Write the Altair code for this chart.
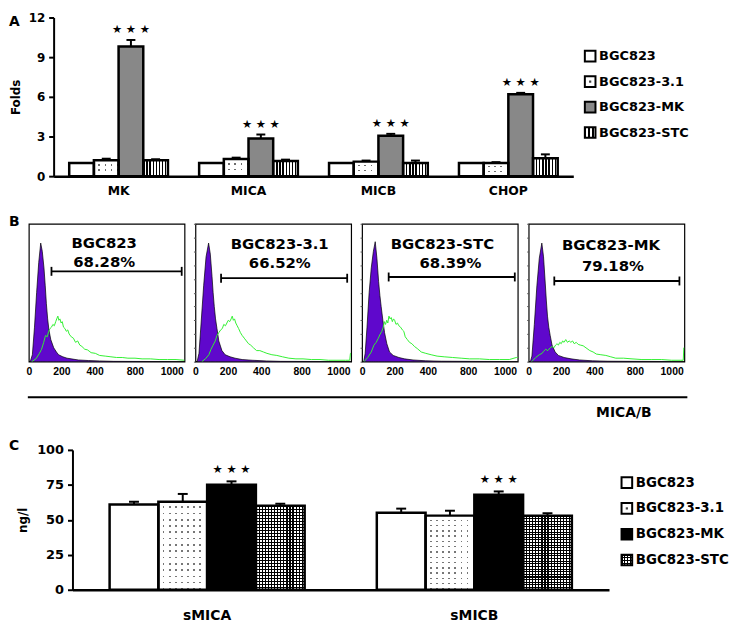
import altair as alt
import pandas as pd

FONT = "DejaVu Sans"
BLACK = "#000000"
WHITE = "#ffffff"
CLEAR = "rgba(255,255,255,0)"
PURPLE = "#5f08cc"
GREEN = "#33f033"

# ---------------------------------------------------------------- data
panel_letters = ["A", "B", "C"]
series = ["BGC823", "BGC823-3.1", "BGC823-MK", "BGC823-STC"]

# Panel A: qPCR folds
genes = ["MK", "MICA", "MICB", "CHOP"]
a_bgc823 = [1.0, 1.0, 1.0, 1.0]
a_bgc823_31 = [1.2, 1.3, 1.1, 1.0]
a_bgc823_mk = [9.8, 2.85, 3.05, 6.2]
a_bgc823_stc = [1.2, 1.15, 1.0, 1.35]
a_err_bgc823 = [0.0, 0.0, 0.0, 0.0]
a_err_bgc823_31 = [0.12, 0.1, 0.08, 0.06]
a_err_bgc823_mk = [0.5, 0.3, 0.15, 0.1]
a_err_bgc823_stc = [0.08, 0.1, 0.18, 0.3]
a_sig_none = ["", "", "", ""]
a_sig_bgc823_mk = ["★ ★ ★", "★ ★ ★", "★ ★ ★", "★ ★ ★"]
a_y_ticks = [0, 3, 6, 9, 12]
a_y_title = "Folds"

# Panel B: flow cytometry histograms
b_samples = ["BGC823", "BGC823-3.1", "BGC823-STC", "BGC823-MK"]
b_percent = ["68.28%", "66.52%", "68.39%", "79.18%"]
b_tick_pos = [0, 230, 465, 750, 1010]
b_tick_labels = ["0", "200", "400", "800", "1000"]
b_axis_title = "MICA/B"
b_gate_x1 = [160, 181, 188, 181]
b_gate_x2 = [1080, 1072, 1079, 1065]
b_gate_y = [65.5, 60.5, 61.4, 58.5]

b_iso_x = [
    [0, 10, 25, 40, 55, 70, 84, 95, 107, 116, 124, 133, 142, 155, 176, 195, 210, 240, 270, 300, 350, 420, 500, 600, 1100],
    [0, 12, 25, 40, 58, 75, 93, 105, 117, 125, 133, 142, 152, 165, 187, 210, 245, 280, 330, 400, 500, 600, 1100],
    [0, 12, 22, 35, 50, 65, 80, 93, 105, 117, 126, 135, 147, 159, 175, 194, 220, 260, 300, 360, 450, 560, 1100],
    [0, 12, 23, 40, 58, 75, 93, 105, 117, 125, 133, 142, 152, 165, 187, 210, 250, 300, 360, 450, 560, 1100],
]
b_iso_y = [
    [0, 0, 5, 25, 50, 72, 86, 80, 68, 55, 42, 31, 23, 16, 10, 7, 5, 3.5, 2.5, 2, 1.2, 0.8, 0.5, 0.2, 0],
    [0, 0, 6, 28, 55, 76, 86, 78, 62, 50, 40, 31, 24, 15, 8, 5, 3.5, 2.5, 1.5, 1, 0.5, 0.2, 0],
    [0, 0, 6, 25, 50, 68, 80, 87, 75, 58, 48, 40, 30, 21, 13, 7, 4.5, 3, 2, 1.2, 0.6, 0.3, 0],
    [0, 0, 4, 27, 55, 75, 86, 76, 57, 44, 33, 25, 19, 12, 7, 4.5, 3, 2, 1.2, 0.6, 0.3, 0],
]
b_mica_x = [
    [20, 50, 75, 90, 105, 118, 130, 140, 150, 160, 170, 180, 190, 197, 205, 212, 220, 228, 236, 245, 255, 265, 275,
     285, 300, 315, 330, 345, 360, 375, 395, 415, 440, 470, 500, 540, 580, 620, 660, 700, 750, 800, 860, 920, 980,
     1040, 1100],
    [45, 70, 95, 110, 125, 140, 152, 165, 178, 190, 200, 212, 222, 232, 242, 252, 260, 268, 276, 285, 295, 305, 318,
     330, 345, 360, 375, 390, 410, 432, 455, 480, 505, 540, 575, 615, 660, 710, 760, 820, 880, 940, 1000, 1060, 1090,
     1095, 1100],
    [14, 40, 65, 84, 100, 115, 128, 140, 150, 158, 166, 174, 182, 190, 198, 206, 214, 222, 230, 240, 250, 260, 272,
     285, 295, 305, 320, 335, 352, 370, 390, 418, 450, 488, 530, 580, 640, 700, 760, 830, 900, 970, 1040, 1090, 1100],
    [21, 50, 75, 95, 105, 120, 135, 152, 165, 178, 190, 200, 210, 220, 230, 240, 250, 262, 274, 286, 298, 310, 322,
     336, 350, 365, 385, 405, 432, 455, 478, 510, 545, 580, 615, 670, 730, 800, 870, 940, 1010, 1070, 1092, 1096, 1100],
]
b_mica_y = [
    [0, 2, 6, 9, 14, 19, 18, 22, 24, 25, 27, 26, 29, 31, 33, 30, 31, 28, 29, 25, 24, 22, 23,
     20, 18, 17, 14, 15, 12, 11, 9, 8.5, 6.5, 6, 4.5, 4, 3.5, 3, 3, 2.5, 2.5, 2, 2, 1.5, 1.5,
     1.5, 1],
    [0, 2, 5, 9, 12, 15, 19, 21, 23, 24, 27, 26, 28, 30, 29, 31, 33, 30, 31, 28, 26, 24, 21,
     19, 17, 15, 13, 12, 10, 8, 8, 7, 6, 5, 4.5, 3.5, 2.5, 2, 2, 1.5, 1.5, 1, 1, 1, 1,
     6, 6],
    [0, 3, 7, 12, 14, 17, 20, 22, 25, 29, 27, 30, 28, 33, 31, 32, 29, 31, 30, 27, 28, 26, 25,
     23, 22, 18, 16, 14, 13, 11, 9.5, 7, 6, 5, 4, 3.5, 3, 2.5, 2, 2, 1.5, 1.5, 1.5, 3, 3],
    [0, 3, 5, 6, 7.5, 9, 8, 10, 11, 10, 12, 13, 12, 14, 13, 15, 14, 16, 14, 15, 14, 15, 13,
     14, 12.5, 12, 11.5, 10, 8, 7, 5.5, 5, 4.5, 3.5, 2.5, 2.5, 2, 1.5, 1.5, 1.5, 1, 1, 1, 10, 10],
]

# Panel C: ELISA ng/l
c_groups = ["sMICA", "sMICB"]
c_bgc823 = [61, 55]
c_bgc823_31 = [63, 53]
c_bgc823_mk = [75, 68]
c_bgc823_stc = [60, 53]
c_err_bgc823 = [2.0, 3.0]
c_err_bgc823_31 = [5.5, 3.5]
c_err_bgc823_mk = [2.5, 2.3]
c_err_bgc823_stc = [1.5, 1.7]
c_sig_none = ["", ""]
c_sig_bgc823_mk = ["★ ★ ★", "★ ★ ★"]
c_y_ticks = [0, 25, 50, 75, 100]
c_y_title = "ng/l"


# ---------------------------------------------------------------- helpers
def stripes(n, on, off, frac, along_x=True):
    stops = []
    for i in range(n):
        a, b, c = i / n, (i + frac) / n, (i + 1) / n
        stops += [alt.GradientStop(color=on, offset=round(a, 5)),
                  alt.GradientStop(color=on, offset=round(b, 5)),
                  alt.GradientStop(color=off, offset=round(b, 5)),
                  alt.GradientStop(color=off, offset=round(c, 5))]
    if along_x:
        return alt.LinearGradient(gradient="linear", stops=stops, x1=0, x2=1, y1=0, y2=0)
    return alt.LinearGradient(gradient="linear", stops=stops, x1=0, x2=0, y1=0, y2=1)


def dots(base, nx, ny, dot):
    return [base, stripes(nx, WHITE, CLEAR, 1 - dot, True), stripes(ny, WHITE, CLEAR, 1 - dot, False)]


def bar_frame(cats, values, errors, sigs):
    rows = []
    for s, vals, errs, sg in zip(series, values, errors, sigs):
        for c, v, e, t in zip(cats, vals, errs, sg):
            rows.append(dict(cat=c, series=s, value=v, err=e, hi=v + e, sig=t))
    return pd.DataFrame(rows)


def letter(t, y, extra=None, width=10, height=100):
    layers = [alt.Chart(pd.DataFrame({"t": [t]})).mark_text(
        align="left", baseline="top", font=FONT, fontWeight="bold", fontSize=14, color=BLACK
    ).encode(text="t:N", x=alt.value(0), y=alt.value(y))]
    if extra:
        layers += extra
    return alt.layer(*layers).properties(width=width, height=height)


def bar_block(df, cats, width, height, p_in, p_out, ydom, yticks, ytitle, fills,
              x_label_size, x_label_pad, y_label_size, title_pad, cap, star_dy):
    xaxis = alt.Axis(title=None, labelAngle=0, ticks=False, domainColor=BLACK, domainWidth=2.5,
                     labelFont=FONT, labelFontWeight="bold", labelFontSize=x_label_size,
                     labelColor=BLACK, labelPadding=x_label_pad, grid=False)
    x = alt.X("cat:N", sort=cats, scale=alt.Scale(domain=cats, paddingInner=p_in, paddingOuter=p_out), axis=xaxis)
    xo = alt.XOffset("series:N", sort=series, scale=alt.Scale(domain=series, paddingInner=0, paddingOuter=0))
    yscale = alt.Scale(domain=ydom, nice=False, zero=True)
    yaxis = alt.Axis(values=yticks, title=ytitle, grid=False, domainColor=BLACK, domainWidth=2,
                     tickColor=BLACK, tickWidth=2, tickSize=5, labelFont=FONT, labelFontWeight="bold",
                     labelFontSize=y_label_size, labelColor=BLACK, labelPadding=4, titleFont=FONT,
                     titleFontWeight="bold", titleFontSize=12, titleColor=BLACK, titlePadding=title_pad)

    def Y(f):
        return alt.Y(f, scale=yscale, axis=yaxis)

    base = alt.Chart(df).encode(x=x, xOffset=xo)
    layers = []
    for s in series:
        for f in fills[s]:
            layers.append(base.transform_filter(alt.datum.series == s)
                          .mark_bar(fill=f, strokeWidth=0).encode(y=Y("value:Q")))
    layers.append(base.mark_bar(fillOpacity=0, stroke=BLACK, strokeWidth=2.5).encode(y=Y("value:Q")))
    errd = base.transform_filter("datum.err > 0")
    layers.append(errd.mark_rule(color=BLACK, strokeWidth=2).encode(y=Y("value:Q"), y2="hi:Q"))
    layers.append(errd.mark_tick(color=BLACK, thickness=2, size=cap, opacity=1).encode(y=Y("hi:Q")))
    layers.append(base.transform_filter("datum.sig != ''").mark_text(
        font=FONT, fontSize=11.5, color=BLACK, baseline="bottom", dy=-star_dy).encode(y=Y("hi:Q"), text="sig:N"))
    return alt.layer(*layers).properties(width=width, height=height)


def legend_block(fills, yrange, text_size, height, sq_x, text_x):
    dfl = pd.DataFrame({"series": series})
    yl = alt.Y("series:N", sort=series, scale=alt.Scale(domain=series, range=yrange, padding=0), axis=None)
    base = alt.Chart(dfl).encode(y=yl, x=alt.value(sq_x))
    layers = []
    for s in series:
        for f in fills[s]:
            if isinstance(f, tuple):
                layers.append(base.transform_filter(alt.datum.series == s)
                              .mark_square(size=f[1], fill=f[0], strokeWidth=0, opacity=1))
            else:
                layers.append(base.transform_filter(alt.datum.series == s)
                              .mark_square(size=115, fill=f, strokeWidth=0, opacity=1))
    layers.append(base.mark_square(size=115, fillOpacity=0, stroke=BLACK, strokeWidth=2, opacity=1))
    layers.append(base.mark_text(align="left", baseline="middle", font=FONT, fontWeight="bold",
                                 fontSize=text_size, color=BLACK).encode(x=alt.value(text_x), text="series:N"))
    return alt.layer(*layers).properties(width=20, height=height)


# ---------------------------------------------------------------- panel A
HA = 160
dfA = bar_frame(genes, [a_bgc823, a_bgc823_31, a_bgc823_mk, a_bgc823_stc],
                [a_err_bgc823, a_err_bgc823_31, a_err_bgc823_mk, a_err_bgc823_stc],
                [a_sig_none, a_sig_none, a_sig_bgc823_mk, a_sig_none])
fillsA = {
    "BGC823": [WHITE],
    "BGC823-3.1": dots("#6e6e6e", 4, 3, 0.28),
    "BGC823-MK": ["#888888"],
    "BGC823-STC": [stripes(8, BLACK, WHITE, 0.42, True)],
}
chartA = bar_block(dfA, genes, 524, HA, 0.24, 0.12, [0, 12], a_y_ticks, a_y_title, fillsA,
                   12.5, 8, 12, 6, 9, 5)
legFillsA = {
    "BGC823": [WHITE],
    "BGC823-3.1": [WHITE, ("#444444", 5)],
    "BGC823-MK": ["#888888"],
    "BGC823-STC": [stripes(3, BLACK, WHITE, 0.45, True)],
}
legendA = legend_block(legFillsA, [39, 116], 13, HA, 12, 21)
rowA = alt.hconcat(letter(panel_letters[0], -2, height=HA, width=40), chartA, legendA,
                   spacing=5, bounds="flush").resolve_scale(xOffset="independent")

# ---------------------------------------------------------------- panel B
label_expr = "[" + ",".join("'%s'" % t for t in b_tick_labels) + "][indexof([" + \
             ",".join(str(v) for v in b_tick_pos) + "], datum.value)]"
name_px = [76, 85, 81, 83]
pct_px = [76, 85, 89, 85]
name_py = [19, 20, 20, 21]
pct_py = [39, 40, 40, 43]
WB, HB = 157, 139


def hist_panel(i):
    xscale = alt.Scale(domain=[0, 1100], nice=False, zero=False)
    xaxis = alt.Axis(values=b_tick_pos, labelExpr=label_expr, title=None, ticks=False, domain=False, grid=False,
                     labelFont="Liberation Sans", labelFontWeight="bold", labelFontSize=10.5, labelColor=BLACK,
                     labelPadding=5, labelFlush=False, labelOverlap=False)
    yscale = alt.Scale(domain=[0, 100], nice=False)
    yaxis = alt.Axis(title=None, labels=False, grid=False, domain=False, ticks=(i > 0), tickSize=2,
                     tickCount=14, tickColor="#555555", tickWidth=1)

    def X(f):
        return alt.X(f, scale=xscale, axis=xaxis)

    def Y(f):
        return alt.Y(f, scale=yscale, axis=yaxis)

    dP = pd.DataFrame({"x": b_iso_x[i], "y": b_iso_y[i]})
    dG = pd.DataFrame({"x": b_mica_x[i], "y": b_mica_y[i]})
    dGate = pd.DataFrame({"x1": [b_gate_x1[i]], "x2": [b_gate_x2[i]], "y": [b_gate_y[i]]})
    dCaps = pd.DataFrame({"x": [b_gate_x1[i], b_gate_x2[i]], "y": [b_gate_y[i], b_gate_y[i]]})
    dT = pd.DataFrame({"name": [b_samples[i]], "pct": [b_percent[i]]})
    txt = dict(font=FONT, fontWeight="bold", fontSize=15, color=BLACK, align="center", baseline="middle")
    layers = [
        alt.Chart(dP).mark_area(fill=PURPLE, stroke=BLACK, strokeWidth=0.7, clip=True,
                                interpolate="linear").encode(x=X("x:Q"), y=Y("y:Q")),
        alt.Chart(dG).mark_line(color=GREEN, strokeWidth=1, clip=True).encode(x=X("x:Q"), y=Y("y:Q")),
        alt.Chart(dGate).mark_rule(color=BLACK, strokeWidth=1.8).encode(x=X("x1:Q"), x2="x2:Q", y=Y("y:Q")),
        alt.Chart(dCaps).mark_tick(color=BLACK, thickness=1.8, size=9, orient="vertical", opacity=1)
        .encode(x=X("x:Q"), y=Y("y:Q")),
        alt.Chart(dT).mark_text(**txt).encode(text="name:N", x=alt.value(name_px[i]), y=alt.value(name_py[i])),
        alt.Chart(dT).mark_text(**txt).encode(text="pct:N", x=alt.value(pct_px[i]), y=alt.value(pct_py[i])),
    ]
    return alt.layer(*layers).properties(width=WB, height=HB,
                                         view=alt.ViewBackground(stroke=BLACK, strokeWidth=1.2))


dAx = pd.DataFrame({"t": [b_axis_title]})
extraB = [
    alt.Chart(dAx).mark_rule(color=BLACK, strokeWidth=2).encode(x=alt.value(19), x2=alt.value(684),
                                                                y=alt.value(175)),
    alt.Chart(dAx).mark_text(font=FONT, fontWeight="bold", fontSize=14, color=BLACK, align="center",
                             baseline="middle").encode(text="t:N", x=alt.value(620), y=alt.value(191)),
]
rowB = alt.hconcat(letter(panel_letters[1], -9, extra=extraB, width=9, height=HB),
                   *[hist_panel(i) for i in range(4)], spacing=11, bounds="flush")

# ---------------------------------------------------------------- panel C
HC = 141
dfC = bar_frame(c_groups, [c_bgc823, c_bgc823_31, c_bgc823_mk, c_bgc823_stc],
                [c_err_bgc823, c_err_bgc823_31, c_err_bgc823_mk, c_err_bgc823_stc],
                [c_sig_none, c_sig_none, c_sig_bgc823_mk, c_sig_none])
fillsC = {
    "BGC823": [WHITE],
    "BGC823-3.1": dots("#777777", 8, 14, 0.26),
    "BGC823-MK": [BLACK],
    "BGC823-STC": [WHITE, stripes(16, BLACK, CLEAR, 0.38, True), stripes(28, BLACK, CLEAR, 0.38, False)],
}
chartC = bar_block(dfC, c_groups, 541, HC, 0.27, 0.139, [0, 100], c_y_ticks, c_y_title, fillsC,
                   14, 19, 13, 7, 10, 6)
legFillsC = {
    "BGC823": [WHITE],
    "BGC823-3.1": [WHITE, ("#444444", 5)],
    "BGC823-MK": [BLACK],
    "BGC823-STC": [WHITE, stripes(4, BLACK, CLEAR, 0.4, True), stripes(4, BLACK, CLEAR, 0.4, False)],
}
legendC = legend_block(legFillsC, [33, 111], 13.5, HC, 13, 22)
rowC = alt.hconcat(letter(panel_letters[2], -11, height=HC, width=59), chartC, legendC,
                   spacing=5, bounds="flush").resolve_scale(xOffset="independent")

chart = (alt.vconcat(rowA, rowB, rowC, spacing=17, padding=0)
         .resolve_scale(xOffset="independent")
         .configure_view(stroke="transparent"))
chart.save("out.html", embed_options={"renderer": "svg", "actions": False})
